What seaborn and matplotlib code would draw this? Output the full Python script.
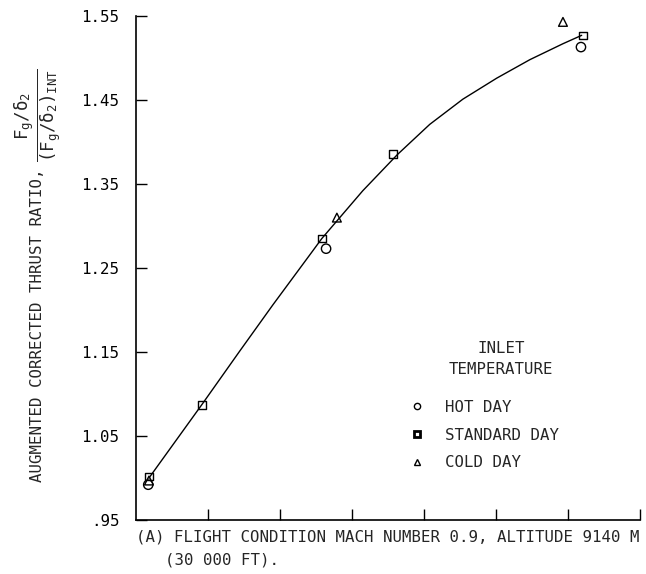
import numpy as np
import pandas as pd
import seaborn as sns
import matplotlib
matplotlib.use("Agg")
import matplotlib.pyplot as plt
from matplotlib.lines import Line2D

# Measured points, by inlet temperature
hot_x = [0.17, 2.64, 6.18]
hot_y = [0.992, 1.273, 1.513]
std_x = [0.18, 0.92, 2.58, 3.57, 6.21]
std_y = [1.002, 1.087, 1.285, 1.386, 1.527]
cold_x = [0.18, 2.79, 5.93]
cold_y = [0.997, 1.310, 1.543]

# Faired curve through the data
curve_x = [0.18, 0.92, 1.44, 1.90, 2.46, 2.58, 3.15, 3.63, 4.08, 4.54, 5.01, 5.47, 5.93, 6.19]
curve_y = [1.000, 1.088, 1.151, 1.206, 1.271, 1.285, 1.342, 1.385, 1.421, 1.451, 1.476, 1.498, 1.517, 1.527]

y_ticks = [0.95, 1.05, 1.15, 1.25, 1.35, 1.45, 1.55]
y_tick_labels = [".95", "1.05", "1.15", "1.25", "1.35", "1.45", "1.55"]
x_ticks = [1, 2, 3, 4, 5, 6, 7]

sns.set_theme(style="ticks")
plt.rcParams["font.family"] = ["DejaVu Sans Mono", "DejaVu Sans"]
plt.rcParams["mathtext.fontset"] = "custom"
plt.rcParams["mathtext.rm"] = "DejaVu Sans Mono"
plt.rcParams["mathtext.default"] = "regular"

FS = 11.3

fig = plt.figure(figsize=(6.46, 5.74), dpi=100)
ax = fig.add_axes([136 / 646, 1 - 520 / 574, (640 - 136) / 646, (520 - 16) / 574])

sns.lineplot(x=curve_x, y=curve_y, ax=ax, color="black", lw=1.0,
             estimator=None, sort=False)

common = dict(ax=ax, fc="none", ec="black", linewidth=1.0, zorder=3, legend=False)
sns.scatterplot(x=hot_x, y=hot_y, marker="o", s=45, **common)
sns.scatterplot(x=std_x, y=std_y, marker="s", s=30, **common)
sns.scatterplot(x=cold_x, y=cold_y, marker="^", s=40, **common)

ax.set_xlabel("")
ax.set_ylabel("")
ax.set_xlim(0, 7)
ax.set_ylim(0.95, 1.55)
ax.set_yticks(y_ticks)
ax.set_yticklabels(y_tick_labels, fontsize=FS)
ax.set_xticks(x_ticks)
ax.set_xticklabels([])
ax.tick_params(direction="in", length=8, width=1, colors="black")
ax.tick_params(axis="y", pad=12)
sns.despine(ax=ax)
for s in ("left", "bottom"):
    ax.spines[s].set_color("black")
    ax.spines[s].set_linewidth(1.2)

handles = [
    Line2D([], [], ls="none", marker="o", ms=4.5, mfc="none", mec="black", label="HOT DAY"),
    Line2D([], [], ls="none", marker="s", ms=4.5, mfc="none", mec="black", mew=2, label="STANDARD DAY"),
    Line2D([], [], ls="none", marker="^", ms=4.5, mfc="none", mec="black", label="COLD DAY"),
]
ax.legend(handles=handles, frameon=False, fontsize=FS, loc="center left",
          bbox_to_anchor=(409 / 646, 1 - 435 / 574),
          bbox_transform=fig.transFigure, handletextpad=1.3,
          labelspacing=0.8, handlelength=1.0, borderpad=0, borderaxespad=0)
fig.text(501 / 646, 1 - 359 / 574, "INLET\nTEMPERATURE", ha="center", va="center",
         multialignment="center", fontsize=FS, linespacing=1.5)

fig.text(38 / 646, 1 - 325 / 574, "AUGMENTED CORRECTED THRUST RATIO,",
         rotation=90, ha="center", va="center", fontsize=FS)
fig.text(38 / 646, 1 - 115 / 574,
         r"$\frac{F_g/\delta_2}{(F_g/\delta_2)_{INT}}$",
         rotation=90, ha="center", va="center", fontsize=18)

fig.text(136 / 646, 1 - 537 / 574,
         "(A) FLIGHT CONDITION MACH NUMBER 0.9, ALTITUDE 9140 M",
         ha="left", va="center", fontsize=FS)
fig.text(165 / 646, 1 - 560 / 574, "(30 000 FT).",
         ha="left", va="center", fontsize=FS)

fig.savefig("out.png", dpi=100)
